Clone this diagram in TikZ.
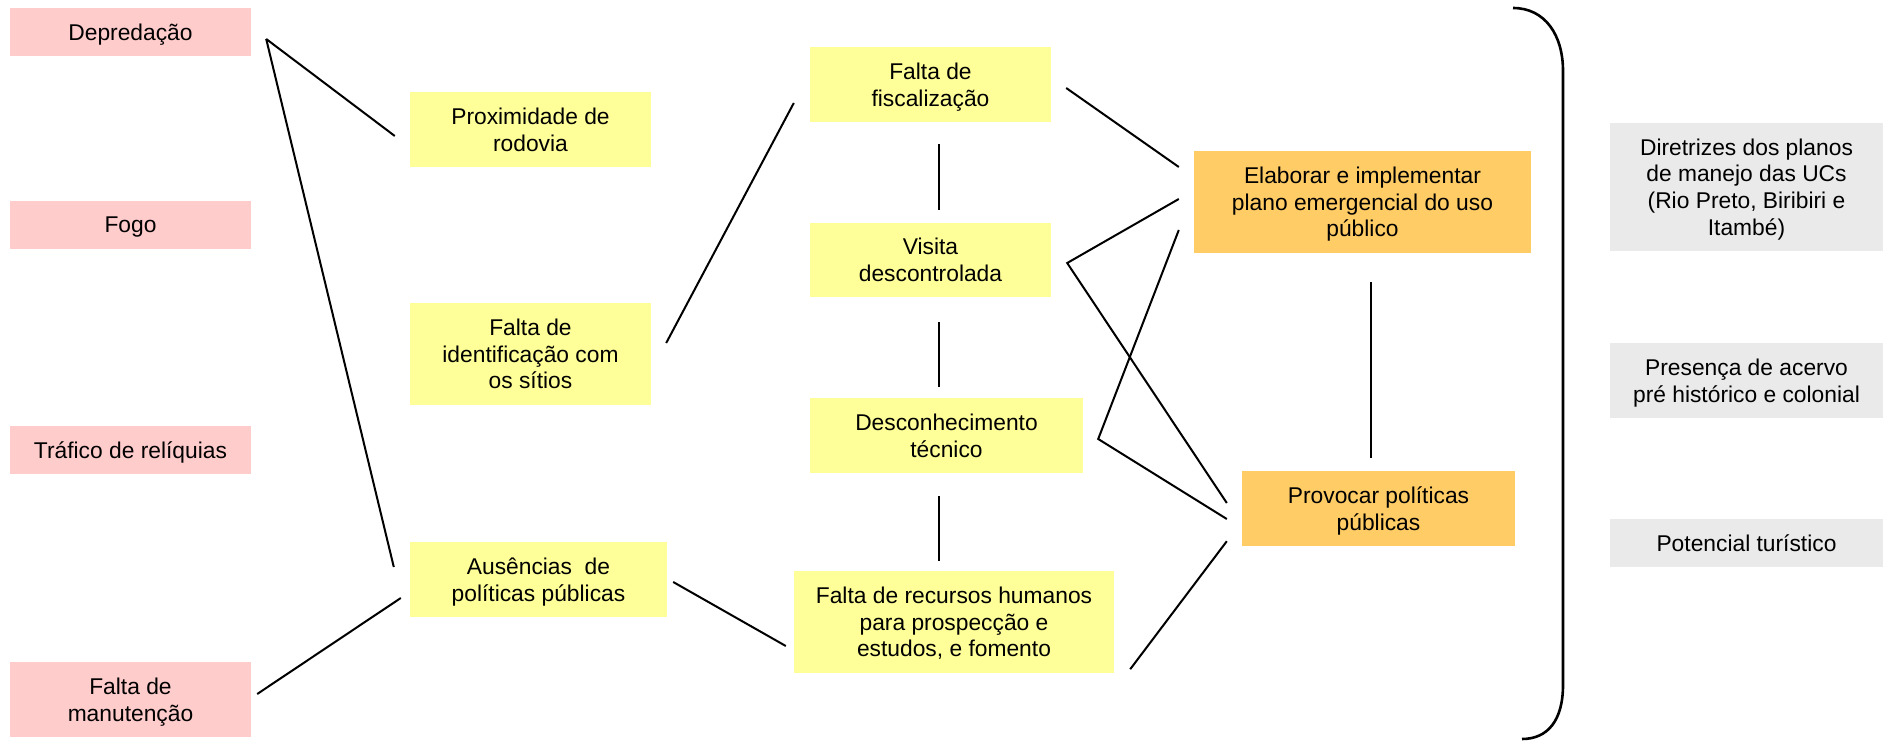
\documentclass[tikz,border=0pt]{standalone}
\usepackage{fontspec}
\setmainfont{Liberation Sans}
\definecolor{rosa}{HTML}{FFCCCC}
\definecolor{amarelo}{HTML}{FFFF99}
\definecolor{laranja}{HTML}{FFCC66}
\definecolor{cinza}{HTML}{EAEAEA}
\begin{document}
\begin{tikzpicture}[x=1pt,y=-1pt,
  font=\fontsize{22.8}{26.7}\selectfont,
  box/.style={inner sep=0pt,align=center,text depth=0pt},
  ameaca/.style={box,fill=rosa,minimum width=241pt,minimum height=48pt},
  causa/.style={box,fill=amarelo},
  acao/.style={box,fill=laranja},
  valor/.style={box,fill=cinza,minimum width=273pt},
  link/.style={draw,line width=2pt}]
\useasboundingbox (0,0) rectangle (1883,741);

% ameacas
\node[ameaca] (dep) at (130.5,32) {Depredação};
\node[ameaca] (fogo) at (130.5,225) {Fogo};
\node[ameaca] (trafico) at (130.5,450) {Tráfico de relíquias};
\node[ameaca,minimum height=75pt] (manut) at (130.5,699.5) {Falta de\\manutenção};

% causas
\node[causa,minimum width=241pt,minimum height=75pt] (prox) at (530.5,129.5) {Proximidade de\\rodovia};
\node[causa,minimum width=241pt,minimum height=102pt] (ident) at (530.5,354) {Falta de\\identificação com\\os sítios};
\node[causa,minimum width=257pt,minimum height=75pt] (ausen) at (538.5,579.5) {Ausências \ de\\políticas públicas};
\node[causa,minimum width=241pt,minimum height=75pt] (fisc) at (930.5,84.5) {Falta de\\fiscalização};
\node[causa,minimum width=241pt,minimum height=74pt] (visita) at (930.5,260) {Visita\\descontrolada};
\node[causa,minimum width=273pt,minimum height=75pt] (descon) at (946.5,435.5) {Desconhecimento\\técnico};
\node[causa,minimum width=320pt,minimum height=102pt] (recur) at (954,622) {Falta de recursos humanos\\para prospecção e\\estudos, e fomento};

% acoes
\node[acao,minimum width=337pt,minimum height=102pt] (elab) at (1362.5,202) {Elaborar e implementar\\plano emergencial do uso\\público};
\node[acao,minimum width=273pt,minimum height=75pt] (provoc) at (1378.5,508.5) {Provocar políticas\\públicas};

% valores
\node[valor,minimum height=128pt] (diret) at (1746.5,187) {Diretrizes dos planos\\de manejo das UCs\\(Rio Preto, Biribiri e\\Itambé)};
\node[valor,minimum height=75pt] (presen) at (1746.5,380.5) {Presença de acervo\\pré histórico e colonial};
\node[valor,minimum height=48pt] (potenc) at (1746.5,543) {Potencial turístico};

\path[link] ([xshift=15pt,yshift=-7pt]dep.east) -- ([xshift=-15pt,yshift=-6.5pt]prox.west);
\path[link] ([xshift=15pt,yshift=-7pt]dep.east) -- ([xshift=-16pt,yshift=12.5pt]ausen.west);
\path[link] ([xshift=6pt,yshift=5.5pt]manut.east) -- ([xshift=-9pt,yshift=-18.5pt]ausen.west);
\path[link] ([xshift=15pt,yshift=11pt]ident.east) -- ([xshift=-16pt,yshift=-18.5pt]fisc.west);
\path[link] ([xshift=6pt,yshift=-2.5pt]ausen.east) -- ([xshift=-8pt,yshift=-24pt]recur.west);
\path[link] ([xshift=8pt,yshift=-22pt]fisc.south) -- ([xshift=8pt,yshift=13pt]visita.north);
\path[link] ([xshift=8pt,yshift=-25pt]visita.south) -- ([xshift=-8pt,yshift=11pt]descon.north);
\path[link] ([xshift=-8pt,yshift=-23pt]descon.south) -- ([xshift=-15.5pt,yshift=10pt]recur.north);
\path[link] ([xshift=15pt,yshift=-3.5pt]fisc.east) -- ([xshift=-15pt,yshift=35pt]elab.west);
\path[link] ([xshift=-15pt,yshift=3pt]elab.west) -- ([xshift=16pt,yshift=-3pt]visita.east)
  -- ([xshift=-15pt,yshift=5.5pt]provoc.west);
\path[link] ([xshift=-15pt,yshift=-28pt]elab.west) -- ([xshift=15pt,yshift=-3.5pt]descon.east)
  -- ([xshift=-15pt,yshift=-10.5pt]provoc.west);
\path[link] ([xshift=8.5pt,yshift=-29pt]elab.south) -- ([xshift=-7.5pt,yshift=13pt]provoc.north);
\path[link] ([xshift=16pt,yshift=4pt]recur.south east) -- ([xshift=-15pt,yshift=5pt]provoc.south west);

% chave
\draw[line width=2.6pt] (1513,8) .. controls (1545,8) and (1563,35) .. (1563,71)
  -- (1563,685) .. controls (1563,720) and (1548,739) .. (1522,739);
\end{tikzpicture}
\end{document}
